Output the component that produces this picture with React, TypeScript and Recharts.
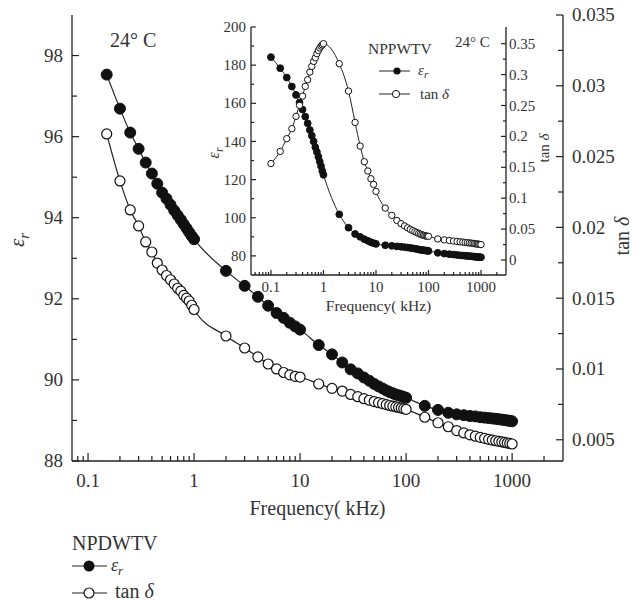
import { LineChart, Line, XAxis, YAxis } from "recharts";

const SERIF = '"Liberation Serif", "Times New Roman", serif';
const INK = "#222";
const TEXT = "#333";

// main plot (NPDWTV), frequency in kHz
const mainFreq = [
  0.15, 0.2, 0.25, 0.3, 0.35, 0.4, 0.45, 0.5, 0.55, 0.6, 0.65, 0.7, 0.75, 0.8, 0.85, 0.9, 0.95, 1,
  2, 3, 4, 5, 6, 7, 8, 9, 10,
  15, 20, 25, 30, 35, 40, 45, 50, 55, 60, 65, 70, 75, 80, 85, 90, 95, 100,
  150, 200, 250, 300, 350, 400, 450, 500, 550, 600, 650, 700, 750, 800, 850, 900, 950, 1000,
];
const mainEr = [
  97.53, 96.69, 96.1, 95.7, 95.36, 95.09, 94.84, 94.62, 94.47, 94.32, 94.18, 94.06, 93.95, 93.84, 93.74, 93.64, 93.55, 93.47,
  92.69, 92.32, 92.05, 91.83, 91.65, 91.53, 91.41, 91.32, 91.24,
  90.86, 90.63, 90.43, 90.26, 90.16, 90.06, 89.98, 89.9, 89.84, 89.79, 89.74, 89.7, 89.67, 89.64, 89.62, 89.6, 89.58, 89.56,
  89.36, 89.26, 89.19, 89.15, 89.13, 89.11, 89.1, 89.08, 89.07, 89.06, 89.05, 89.04, 89.03, 89.02, 89.01, 89.0, 88.99, 88.98,
];
const mainTan = [
  0.0266, 0.02328, 0.02123, 0.0201, 0.01897, 0.01826, 0.01748, 0.01699, 0.0166, 0.0163, 0.016, 0.0157, 0.0155, 0.0152, 0.015, 0.0148, 0.0145, 0.0142,
  0.01233, 0.01148, 0.01085, 0.01035, 0.01, 0.00975, 0.00958, 0.00948, 0.00943,
  0.00894, 0.00863, 0.00844, 0.0082, 0.00804, 0.0079, 0.00779, 0.0077, 0.00762, 0.00755, 0.00748, 0.00742, 0.00737, 0.00732, 0.00728, 0.00724, 0.0072, 0.00715,
  0.00659, 0.0062, 0.00592, 0.00565, 0.00548, 0.00535, 0.00525, 0.00517, 0.0051, 0.00503, 0.00498, 0.00493, 0.00489, 0.00485, 0.00481, 0.00477, 0.00474, 0.0047,
];

// inset (NPPWTV)
const insetFreq = [
  0.1, 0.15, 0.2, 0.25, 0.3, 0.35, 0.4, 0.45, 0.5, 0.55, 0.6, 0.65, 0.7, 0.75, 0.8, 0.85, 0.9, 0.95, 1,
  2, 3, 4, 5, 6, 7, 8, 9, 10,
  15, 20, 25, 30, 35, 40, 45, 50, 55, 60, 65, 70, 75, 80, 85, 90, 95, 100,
  150, 200, 250, 300, 350, 400, 450, 500, 550, 600, 650, 700, 750, 800, 850, 900, 950, 1000,
];
const insetEr = [
  184.2, 178.4, 173.5, 168.8, 164.4, 160.4, 156.7, 153, 149.5, 146, 143, 140, 137, 134.5, 132, 129.5, 127, 124.5, 122.5,
  101.8, 94.8, 91.5, 90, 88.8, 87.9, 87.2, 86.7, 86.3,
  85.6, 85.3, 85, 84.8, 84.6, 84.4, 84.2, 84, 83.8, 83.6, 83.4, 83.2, 83.1, 83, 82.9, 82.8, 82.7, 82.6,
  81.6, 81.2, 80.9, 80.7, 80.5, 80.3, 80.2, 80.1, 80, 79.9, 79.8, 79.7, 79.6, 79.5, 79.5, 79.4, 79.3, 79.3,
];
const insetTan = [
  0.156, 0.1757, 0.1963, 0.2125, 0.2324, 0.2502, 0.2652, 0.2809, 0.2917, 0.304, 0.3133, 0.3214, 0.3273, 0.3338, 0.339, 0.343, 0.346, 0.348, 0.35,
  0.3176, 0.2733, 0.2226, 0.1843, 0.159, 0.144, 0.1315, 0.1223, 0.111,
  0.084, 0.0722, 0.064, 0.0587, 0.055, 0.052, 0.0495, 0.0475, 0.0458, 0.0443, 0.043, 0.0418, 0.0408, 0.04, 0.0393, 0.0387, 0.0384, 0.0382,
  0.034, 0.0325, 0.0315, 0.0307, 0.03, 0.0294, 0.0289, 0.0284, 0.028, 0.0276, 0.0272, 0.0268, 0.0265, 0.0261, 0.0258, 0.0255, 0.0252, 0.0249,
];

// ticks
const decadeTicks = [
  0.1, 0.2, 0.3, 0.4, 0.5, 0.6, 0.7, 0.8, 0.9, 1, 2, 3, 4, 5, 6, 7, 8, 9, 10,
  20, 30, 40, 50, 60, 70, 80, 90, 100, 200, 300, 400, 500, 600, 700, 800, 900, 1000, 2000,
];
const mainXTicks = [0.08, 0.09, ...decadeTicks];
const insetXTicks = [0.05, 0.06, 0.07, 0.08, 0.09, ...decadeTicks];
const xMajor = [0.1, 1, 10, 100, 1000];

const mainLeftTicks = [88, 89, 90, 91, 92, 93, 94, 95, 96, 97, 98];
const mainLeftMajor = [88, 90, 92, 94, 96, 98];
const mainRightTicks = [0.005, 0.0075, 0.01, 0.0125, 0.015, 0.0175, 0.02, 0.0225, 0.025, 0.0275, 0.03, 0.0325, 0.035];
const mainRightMajor = [0.005, 0.01, 0.015, 0.02, 0.025, 0.03, 0.035];

const insetLeftTicks = [80, 90, 100, 110, 120, 130, 140, 150, 160, 170, 180, 190, 200];
const insetLeftMajor = [80, 100, 120, 140, 160, 180, 200];
const insetRightTicks = [0, 0.025, 0.05, 0.075, 0.1, 0.125, 0.15, 0.175, 0.2, 0.225, 0.25, 0.275, 0.3, 0.325, 0.35];
const insetRightMajor = [0, 0.05, 0.1, 0.15, 0.2, 0.25, 0.3, 0.35];

const mainData = mainFreq.map((f, i) => ({ f, er: mainEr[i], tan: mainTan[i] }));
const insetData = insetFreq.map((f, i) => ({ f, er: insetEr[i], tan: insetTan[i] }));

interface TickOpts {
  side: "bottom" | "left" | "right";
  majors: number[];
  big: number;
  small: number;
  size: number;
  gap: number;
}

// inward tick marks, label only on major ones
function makeTick({ side, majors, big, small, size, gap }: TickOpts) {
  return function Tick(props: any) {
    const { x, y, payload } = props;
    const v = payload.value as number;
    const major = majors.some((m) => Math.abs(m - v) < 1e-9);
    const len = major ? big : small;
    const textStyle = { fontFamily: SERIF };
    if (side === "bottom") {
      return (
        <g>
          <line x1={x} y1={y} x2={x} y2={y - len} stroke={INK} strokeWidth={1.2} />
          {major && (
            <text x={x} y={y + gap} textAnchor="middle" fontSize={size} style={textStyle} fill={TEXT}>
              {String(v)}
            </text>
          )}
        </g>
      );
    }
    const dir = side === "left" ? 1 : -1;
    return (
      <g>
        <line x1={x} y1={y} x2={x + dir * len} y2={y} stroke={INK} strokeWidth={1.2} />
        {major && (
          <text
            x={x - dir * gap}
            y={y}
            dy="0.34em"
            textAnchor={side === "left" ? "end" : "start"}
            fontSize={size}
            style={textStyle}
            fill={TEXT}
          >
            {String(v)}
          </text>
        )}
      </g>
    );
  };
}

const axisLine = { stroke: INK, strokeWidth: 1.3 };

function MainChart() {
  const xDomain = [0.0706, 3020];
  return (
    <LineChart width={639} height={602} data={mainData} margin={{ top: 15, right: 0, bottom: 101, left: 12 }}>
      <XAxis
        xAxisId="b"
        dataKey="f"
        type="number"
        scale="log"
        domain={xDomain}
        allowDataOverflow
        ticks={mainXTicks}
        interval={0}
        height={40}
        tickSize={0}
        tickMargin={0}
        tickLine={false}
        axisLine={axisLine}
        tick={makeTick({ side: "bottom", majors: xMajor, big: 8, small: 5, size: 19, gap: 26 })}
      />
      <XAxis
        xAxisId="t"
        orientation="top"
        dataKey="f"
        type="number"
        scale="log"
        domain={xDomain}
        allowDataOverflow
        height={0}
        tick={false}
        tickLine={false}
        axisLine={axisLine}
      />
      <YAxis
        yAxisId="L"
        domain={[88, 99]}
        allowDataOverflow
        ticks={mainLeftTicks}
        interval={0}
        width={60}
        tickSize={0}
        tickMargin={0}
        tickLine={false}
        axisLine={axisLine}
        tick={makeTick({ side: "left", majors: mainLeftMajor, big: 7, small: 5, size: 19, gap: 9 })}
      />
      <YAxis
        yAxisId="R"
        orientation="right"
        domain={[0.0035, 0.035]}
        allowDataOverflow
        ticks={mainRightTicks}
        interval={0}
        width={76}
        tickSize={0}
        tickMargin={0}
        tickLine={false}
        axisLine={axisLine}
        tick={makeTick({ side: "right", majors: mainRightMajor, big: 7, small: 5, size: 19, gap: 9 })}
      />
      <Line
        xAxisId="b"
        yAxisId="L"
        dataKey="er"
        type="monotone"
        stroke={INK}
        strokeWidth={1.2}
        dot={{ r: 5.5, fill: "#111", stroke: "#111", strokeWidth: 1 }}
        isAnimationActive={false}
      />
      <Line
        xAxisId="b"
        yAxisId="R"
        dataKey="tan"
        type="monotone"
        stroke={INK}
        strokeWidth={1.2}
        dot={{ r: 5, fill: "#fff", stroke: "#111", strokeWidth: 1.2 }}
        isAnimationActive={false}
      />
    </LineChart>
  );
}

function InsetChart() {
  const xDomain = [0.0417, 2990];
  return (
    <LineChart width={366} height={330} data={insetData} margin={{ top: 27, right: 0, bottom: 10, left: 0 }}>
      <XAxis
        xAxisId="b"
        dataKey="f"
        type="number"
        scale="log"
        domain={xDomain}
        allowDataOverflow
        ticks={insetXTicks}
        interval={0}
        height={45}
        tickSize={0}
        tickMargin={0}
        tickLine={false}
        axisLine={axisLine}
        tick={makeTick({ side: "bottom", majors: xMajor, big: 5, small: 3, size: 15, gap: 17 })}
      />
      <XAxis
        xAxisId="t"
        orientation="top"
        dataKey="f"
        type="number"
        scale="log"
        domain={xDomain}
        allowDataOverflow
        height={0}
        tick={false}
        tickLine={false}
        axisLine={axisLine}
      />
      <YAxis
        yAxisId="L"
        domain={[70, 200]}
        allowDataOverflow
        ticks={insetLeftTicks}
        interval={0}
        width={51}
        tickSize={0}
        tickMargin={0}
        tickLine={false}
        axisLine={axisLine}
        tick={makeTick({ side: "left", majors: insetLeftMajor, big: 5, small: 3, size: 15, gap: 5 })}
      />
      <YAxis
        yAxisId="R"
        orientation="right"
        domain={[-0.0243, 0.377]}
        allowDataOverflow
        ticks={insetRightTicks}
        interval={0}
        width={60}
        tickSize={0}
        tickMargin={0}
        tickLine={false}
        axisLine={axisLine}
        tick={makeTick({ side: "right", majors: insetRightMajor, big: 5, small: 3, size: 15, gap: 3 })}
      />
      <Line
        xAxisId="b"
        yAxisId="L"
        dataKey="er"
        type="monotone"
        stroke={INK}
        strokeWidth={1}
        dot={{ r: 3.4, fill: "#111", stroke: "#111", strokeWidth: 1 }}
        isAnimationActive={false}
      />
      <Line
        xAxisId="b"
        yAxisId="R"
        dataKey="tan"
        type="monotone"
        stroke={INK}
        strokeWidth={1}
        dot={{ r: 3.2, fill: "#fff", stroke: "#111", strokeWidth: 1 }}
        isAnimationActive={false}
      />
    </LineChart>
  );
}

function EpsR({ x, y, size, rotate }: { x: number; y: number; size: number; rotate?: boolean }) {
  return (
    <text
      x={x}
      y={y}
      textAnchor="middle"
      fontSize={size}
      fontFamily={SERIF}
      fill={TEXT}
      fontStyle="italic"
      transform={rotate ? `rotate(-90 ${x} ${y})` : undefined}
    >
      ε
      <tspan fontSize={size * 0.72} dy={size * 0.22}>
        r
      </tspan>
    </text>
  );
}

function Overlay() {
  return (
    <svg width={639} height={602} style={{ position: "absolute", left: 0, top: 0, pointerEvents: "none" }}>
      {/* main annotations */}
      <text x={110} y={47} fontSize={20} fontFamily={SERIF} fill={TEXT}>
        24° C
      </text>
      <text x={317.5} y={515} textAnchor="middle" fontSize={20} fontFamily={SERIF} fill={TEXT}>
        Frequency( kHz)
      </text>
      <EpsR x={24} y={240} size={21} rotate />
      <text x={629} y={236} textAnchor="middle" fontSize={20} fontFamily={SERIF} fill={TEXT} transform="rotate(-90 629 236)">
        tan <tspan fontStyle="italic">δ</tspan>
      </text>

      {/* main legend */}
      <text x={72} y={550} fontSize={20} fontFamily={SERIF} fill={TEXT}>
        NPDWTV
      </text>
      <line x1={72} y1={566} x2={107} y2={566} stroke={INK} strokeWidth={1.2} />
      <circle cx={89} cy={566} r={5.5} fill="#111" />
      <text x={111} y={571} fontSize={18} fontFamily={SERIF} fill={TEXT} fontStyle="italic">
        ε<tspan fontSize={13} dy={4}>r</tspan>
      </text>
      <line x1={72} y1={593} x2={107} y2={593} stroke={INK} strokeWidth={1.2} />
      <circle cx={89} cy={593} r={5} fill="#fff" stroke="#111" strokeWidth={1.2} />
      <text x={115} y={598} fontSize={20} fontFamily={SERIF} fill={TEXT}>
        tan <tspan fontStyle="italic">δ</tspan>
      </text>

      {/* inset annotations */}
      <text x={455} y={47} fontSize={15} fontFamily={SERIF} fill={TEXT}>
        24° C
      </text>
      <text x={378.5} y={311} textAnchor="middle" fontSize={15.5} fontFamily={SERIF} fill={TEXT}>
        Frequency( kHz)
      </text>
      <EpsR x={219} y={153} size={16} rotate />
      <text x={549} y={148} textAnchor="middle" fontSize={15} fontFamily={SERIF} fill={TEXT} transform="rotate(-90 549 148)">
        tan <tspan fontStyle="italic">δ</tspan>
      </text>
      <text x={368} y={54} fontSize={15.5} fontFamily={SERIF} fill={TEXT}>
        NPPWTV
      </text>
      <line x1={379} y1={71} x2={410} y2={71} stroke={INK} strokeWidth={1} />
      <circle cx={397} cy={71} r={3.6} fill="#111" />
      <text x={418} y={75} fontSize={15} fontFamily={SERIF} fill={TEXT} fontStyle="italic">
        ε<tspan fontSize={11} dy={3}>r</tspan>
      </text>
      <line x1={379} y1={94} x2={410} y2={94} stroke={INK} strokeWidth={1} />
      <circle cx={396} cy={94} r={3.6} fill="#fff" stroke="#111" strokeWidth={1} />
      <text x={420} y={99} fontSize={15} fontFamily={SERIF} fill={TEXT}>
        tan <tspan fontStyle="italic">δ</tspan>
      </text>
    </svg>
  );
}

export default function App() {
  return (
    <div style={{ position: "absolute", left: 0, top: 0, width: 639, height: 602, background: "#fff" }}>
      <div style={{ position: "absolute", left: 0, top: 0 }}>
        <MainChart />
      </div>
      <div style={{ position: "absolute", left: 200, top: 0 }}>
        <InsetChart />
      </div>
      <Overlay />
    </div>
  );
}
